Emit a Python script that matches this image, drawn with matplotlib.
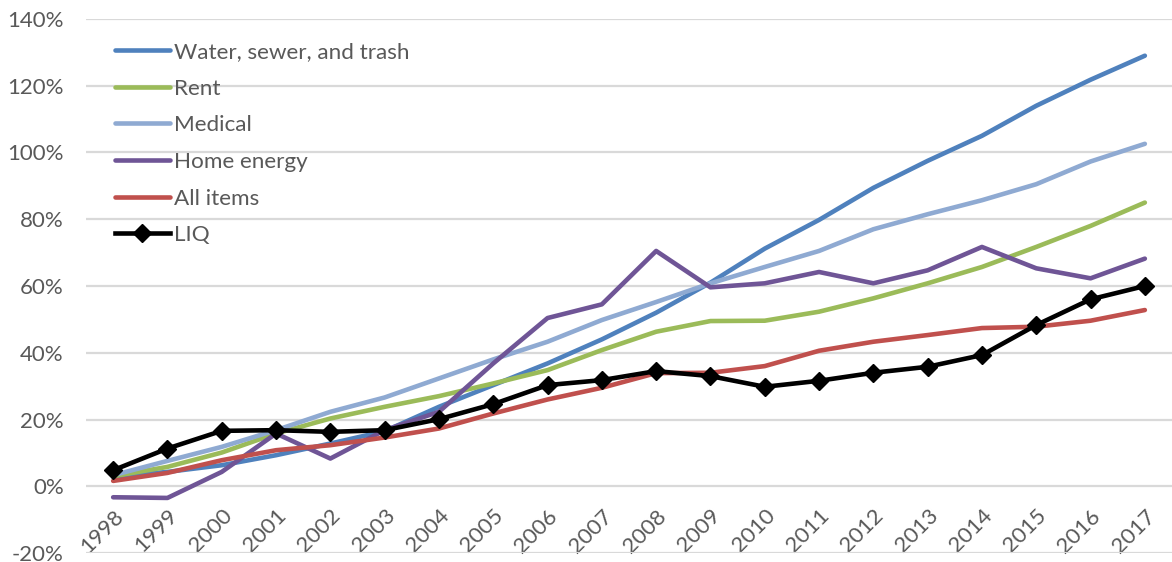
import matplotlib
matplotlib.use("Agg")
import matplotlib.pyplot as plt
from matplotlib.ticker import FuncFormatter, MultipleLocator

years = [str(y) for y in range(1998, 2018)]

water = [2.8, 4.3, 6.3, 9.3, 12.8, 16.5, 23.8, 30.3, 36.8, 44.0, 52.0, 61.0,
         71.2, 79.8, 89.4, 97.5, 105.0, 114.0, 121.8, 129.0]
rent = [3.0, 5.8, 10.1, 15.8, 20.3, 23.8, 27.0, 30.8, 34.8, 40.8, 46.3, 49.5,
        49.6, 52.3, 56.3, 60.8, 65.7, 71.7, 78.0, 85.0]
medical = [3.3, 7.6, 11.8, 16.8, 22.3, 26.6, 32.3, 38.0, 43.3, 49.8, 55.2, 60.8,
           65.7, 70.5, 77.0, 81.5, 85.7, 90.5, 97.3, 102.6]
home_energy = [-3.3, -3.5, 4.3, 15.8, 8.3, 16.8, 22.3, 36.8, 50.4, 54.5, 70.5, 59.6,
               60.8, 64.2, 60.8, 64.7, 71.7, 65.3, 62.3, 68.2]
all_items = [1.6, 4.0, 7.8, 10.8, 12.3, 14.6, 17.3, 21.8, 26.0, 29.5, 33.9, 34.0,
             36.0, 40.6, 43.3, 45.3, 47.4, 47.8, 49.6, 52.8]
liq = [4.8, 11.3, 16.6, 16.8, 16.3, 16.8, 20.1, 24.6, 30.3, 31.8, 34.5, 33.0,
       29.8, 31.6, 34.0, 35.8, 39.3, 48.3, 56.0, 60.0]

series = [
    ("Water, sewer, and trash", water, "#4F81BD"),
    ("Rent", rent, "#9BBB59"),
    ("Medical", medical, "#8FAAD2"),
    ("Home energy", home_energy, "#6F5596"),
    ("All items", all_items, "#C0504D"),
]

plt.rcParams['font.family'] = ['Lato', 'DejaVu Sans']
fig = plt.figure(figsize=(11.72, 5.62), dpi=100)
ax = fig.add_axes([86/1172, 1 - 553/562, 1 - 86/1172, (553 - 19)/562])

x = list(range(len(years)))
for name, vals, col in series:
    ax.plot(x, vals, color=col, lw=3.3, label=name, solid_capstyle='round',
            solid_joinstyle='round')
ax.plot(x, liq, color='black', lw=3.3, marker='D', markersize=9, label='LIQ',
        solid_joinstyle='round')

ax.set_xlim(-0.5, len(years) - 0.5)
ax.set_ylim(-20, 140)
ax.yaxis.set_major_locator(MultipleLocator(20))
ax.yaxis.set_major_formatter(FuncFormatter(lambda v, p: f"{v:.0f}%"))
ax.grid(axis='y', color='#D9D9D9', lw=1.6)
ax.set_axisbelow(True)
for s in ['top', 'right', 'left']:
    ax.spines[s].set_visible(False)
ax.spines['bottom'].set_position(('data', 0))
ax.spines['bottom'].set_color('none')

ax.set_xticks(x)
ax.set_xticklabels(years, rotation=45, ha='right', rotation_mode='anchor')
ax.tick_params(axis='x', length=0, pad=14, labelsize=16, labelcolor='#595959')
ax.tick_params(axis='y', length=0, pad=16, labelsize=16, labelcolor='#595959')

leg = ax.legend(loc='upper left', bbox_to_anchor=(0.0267, 0.957), frameon=False,
                fontsize=16.2, handlelength=2.44, handletextpad=0.18,
                labelspacing=0.74, borderaxespad=0, borderpad=0)
for t in leg.get_texts():
    t.set_color('#595959')

fig.savefig("out.png", dpi=100)
